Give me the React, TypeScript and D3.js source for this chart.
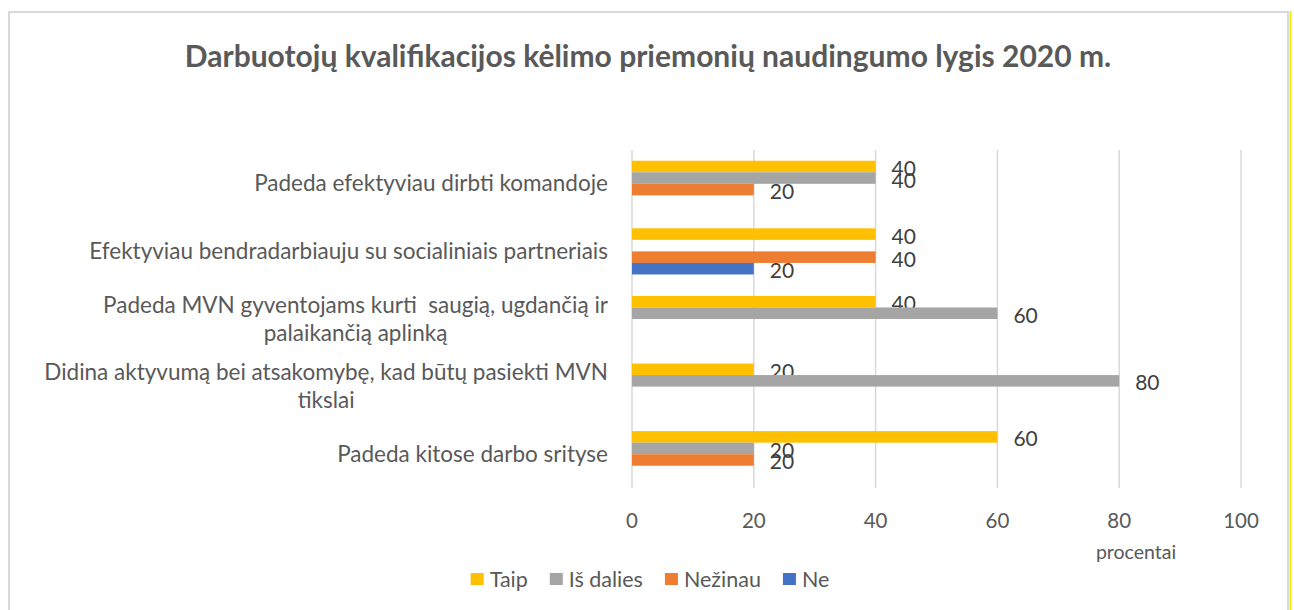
import { useEffect, useRef } from 'react';
import * as d3 from 'd3';

// categories, top to bottom; wrapped labels are given as lines
const categories = [
  ['Padeda efektyviau dirbti komandoje'],
  ['Efektyviau bendradarbiauju su socialiniais partneriais'],
  ['Padeda MVN gyventojams kurti  saugią, ugdančią ir', 'palaikančią aplinką'],
  ['Didina aktyvumą bei atsakomybę, kad būtų pasiekti MVN', 'tikslai'],
  ['Padeda kitose darbo srityse'],
];

const seriesNames = ['Taip', 'Iš dalies', 'Nežinau', 'Ne'];
const seriesColors = ['#FFC000', '#A5A5A5', '#ED7D31', '#4472C4'];

const taip = [40, 40, 40, 20, 60];
const isDalies = [40, null, 60, 80, 20];
const nezinau = [20, 40, null, null, 20];
const ne = [null, 20, null, null, null];

const xTicks = [0, 20, 40, 60, 80, 100];

const title = 'Darbuotojų kvalifikacijos kėlimo priemonių naudingumo lygis 2020 m.';
const axisTitle = 'procentai';

const FONT = 'Lato, "Open Sans", sans-serif';
const TEXT = '#595959';

export default function App() {
  const ref = useRef<SVGSVGElement>(null);

  useEffect(() => {
    document.body.style.margin = '0';
    const svg = d3.select(ref.current);
    svg.selectAll('*').remove();

    const W = 1294, H = 610;
    const plot = { left: 632, right: 1241, top: 150, bottom: 488 };
    const values = [taip, isDalies, nezinau, ne];

    // frame
    svg.append('rect').attr('x', 0).attr('y', 0).attr('width', W).attr('height', H).attr('fill', '#fff');
    svg.append('path')
      .attr('d', `M9,${H} V12 H1288 V${H}`)
      .attr('fill', 'none').attr('stroke', '#D9D9D9').attr('stroke-width', 2);
    svg.append('line').attr('x1', 1290.5).attr('x2', 1290.5).attr('y1', 11).attr('y2', H)
      .attr('stroke', '#F5F000').attr('stroke-width', 2);

    // title
    svg.append('text')
      .attr('x', 648).attr('y', 67).attr('text-anchor', 'middle')
      .style('font-family', FONT).style('font-size', '30px').style('font-weight', 700)
      .style('fill', TEXT).text(title);

    const x = d3.scaleLinear().domain([0, 100]).range([plot.left, plot.right]);
    const y = d3.scaleBand<number>().domain(d3.range(categories.length)).range([plot.top, plot.bottom]);
    const ys = d3.scaleBand<number>().domain(d3.range(seriesNames.length))
      .range([0, y.bandwidth()]).paddingInner(0).paddingOuter(0.93);

    // gridlines
    svg.append('g').selectAll('line').data(xTicks).join('line')
      .attr('x1', d => x(d)).attr('x2', d => x(d))
      .attr('y1', plot.top).attr('y2', plot.bottom)
      .attr('stroke', '#D9D9D9').attr('stroke-width', 1.5);

    // tick labels
    svg.append('g').selectAll('text').data(xTicks).join('text')
      .attr('x', d => x(d)).attr('y', 520).attr('text-anchor', 'middle').attr('dominant-baseline', 'central')
      .style('font-family', FONT).style('font-size', '20.5px').style('fill', TEXT)
      .text(d => d);

    svg.append('text')
      .attr('x', 1136).attr('y', 551).attr('text-anchor', 'middle').attr('dominant-baseline', 'central')
      .style('font-family', FONT).style('font-size', '19.5px').style('fill', TEXT)
      .text(axisTitle);

    // bars + labels
    values.forEach((vals, si) => {
      const g = svg.append('g');
      const rows = vals.map((v, ci) => ({ v, ci })).filter(d => d.v != null) as { v: number; ci: number }[];
      g.selectAll('rect').data(rows).join('rect')
        .attr('x', x(0)).attr('y', d => (y(d.ci) ?? 0) + (ys(si) ?? 0))
        .attr('width', d => x(d.v) - x(0)).attr('height', ys.bandwidth())
        .attr('fill', seriesColors[si]);
      g.selectAll('text').data(rows).join('text')
        .attr('x', d => x(d.v) + 16)
        .attr('y', d => (y(d.ci) ?? 0) + (ys(si) ?? 0) + ys.bandwidth() / 2 + 1)
        .attr('dominant-baseline', 'central')
        .style('font-family', FONT).style('font-size', '21px').style('fill', '#404040')
        .text(d => d.v);
    });

    // category labels (block right-aligned, lines centred)
    const lineH = 28;
    categories.forEach((lines, ci) => {
      const g = svg.append('g');
      const texts = lines.map(l => g.append('text')
        .style('font-family', FONT).style('font-size', '22.5px').style('fill', TEXT)
        .style('white-space', 'pre').attr('dominant-baseline', 'central').attr('text-anchor', 'middle')
        .text(l));
      const maxW = d3.max(texts, t => (t.node() as SVGTextElement).getComputedTextLength()) ?? 0;
      const cx = 608 - maxW / 2;
      const cy = (y(ci) ?? 0) + y.bandwidth() / 2;
      texts.forEach((t, i) => t.attr('x', cx).attr('y', cy + (i - (lines.length - 1) / 2) * lineH - 1));
    });

    // legend, centred on the chart
    const lg = svg.append('g');
    const items = seriesNames.map((name, i) => {
      const t = lg.append('text').attr('y', 579).attr('dominant-baseline', 'central')
        .style('font-family', FONT).style('font-size', '21.5px').style('fill', TEXT).text(name);
      return { t, w: (t.node() as SVGTextElement).getComputedTextLength(), i };
    });
    const sq = 13, gapIn = 6, gapOut = 22;
    const total = d3.sum(items, d => sq + gapIn + d.w) + gapOut * (items.length - 1);
    let cur = 650 - total / 2;
    items.forEach(d => {
      lg.append('rect').attr('x', cur).attr('y', 573).attr('width', sq).attr('height', 12)
        .attr('fill', seriesColors[d.i]);
      d.t.attr('x', cur + sq + gapIn);
      cur += sq + gapIn + d.w + gapOut;
    });
  }, []);

  return <svg ref={ref} width={1294} height={610} style={{ display: 'block' }} />;
}
